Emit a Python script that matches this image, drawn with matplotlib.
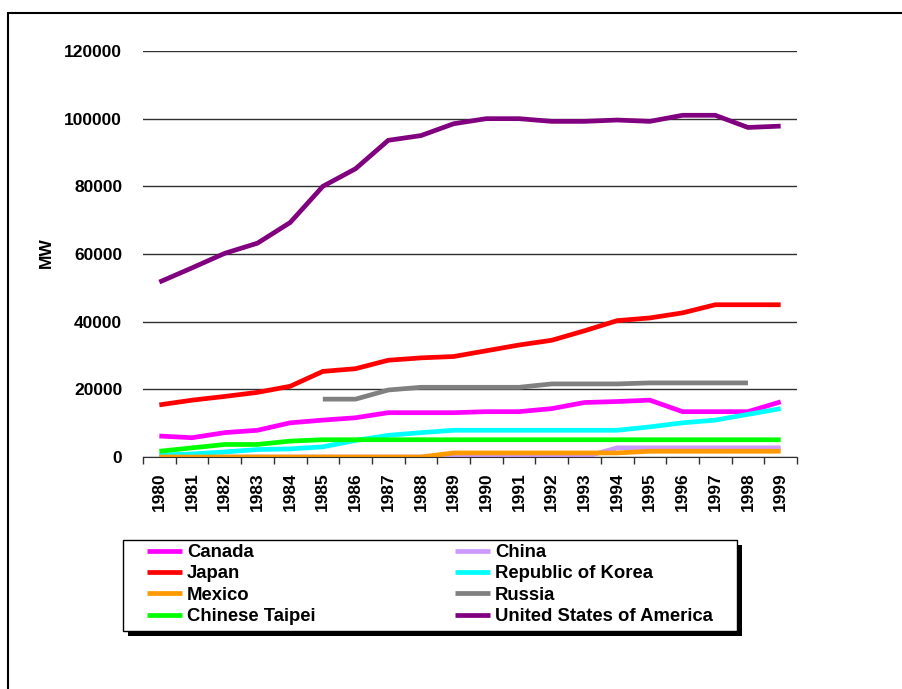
## plot.py
# installed nuclear capacity by country, 1980-1999 (MW)

import matplotlib
matplotlib.use("Agg")
import matplotlib.pyplot as plt
from matplotlib.patches import Rectangle
import numpy as np

plt.rcParams["font.family"] = ["Liberation Sans", "DejaVu Sans"]
plt.rcParams["font.weight"] = "bold"

# data
years = [str(y) for y in range(1980, 2000)]

canada = [6200, 5700, 7200, 7900, 10100, 10900, 11600, 13100, 13100, 13100,
          13400, 13400, 14300, 16100, 16400, 16800, 13400, 13400, 13400, 16300]
china = [0, 0, 0, 0, 0, 0, 0, 0, 0, 0,
         0, 0, 0, 0, 2700, 2700, 2700, 2700, 2700, 2700]
japan = [15400, 16800, 17900, 19100, 20900, 25300, 26100, 28600, 29300, 29700,
         31400, 33100, 34500, 37300, 40300, 41100, 42600, 45000, 45000, 45000]
korea = [600, 900, 1500, 2200, 2400, 3000, 4900, 6400, 7200, 7900,
         7900, 7900, 7900, 7900, 7900, 8900, 10100, 10900, 12600, 14300]
mexico = [0, 0, 0, 0, 0, 0, 0, 0, 0, 1200,
          1200, 1200, 1200, 1200, 1200, 1700, 1700, 1700, 1700, 1700]
russia = [None, None, None, None, None, 17100, 17100, 19800, 20600, 20600,
          20600, 20600, 21600, 21600, 21600, 21900, 21900, 21900, 21900, None]
taipei = [1700, 2700, 3700, 3700, 4700, 5100, 5100, 5100, 5100, 5100,
          5100, 5100, 5100, 5100, 5100, 5100, 5100, 5100, 5100, 5100]
usa = [51700, 55900, 60200, 63200, 69300, 80000, 85200, 93600, 95000, 98500,
       100000, 100000, 99200, 99200, 99600, 99200, 101000, 101000, 97400, 97800]

series = [
    ("Canada", canada, "#FF00FF"),
    ("China", china, "#CC99FF"),
    ("Japan", japan, "#FF0000"),
    ("Republic of Korea", korea, "#00FFFF"),
    ("Mexico", mexico, "#FF9900"),
    ("Russia", russia, "#808080"),
    ("Chinese Taipei", taipei, "#00FF00"),
    ("United States of America", usa, "#800080"),
]

W, H = 902, 689
fig = plt.figure(figsize=(W / 100, H / 100), dpi=100)
ax = fig.add_axes([143 / W, 1 - 457 / H, 654 / W, 406 / H])

x = np.arange(len(years))
lines = {}
for name, vals, color in series:
    v = np.array([np.nan if a is None else a for a in vals], dtype=float)
    ln, = ax.plot(x, v, color=color, lw=3.4, solid_capstyle="butt",
                  solid_joinstyle="miter", label=name)
    lines[name] = ln

# axes styling
ax.set_xlim(-0.5, len(years) - 0.5)
ax.set_ylim(0, 120000)
ax.set_yticks(range(0, 120001, 20000))
ax.set_yticklabels([str(v) for v in range(0, 120001, 20000)], fontsize=12.5, fontweight="bold")
ax.tick_params(axis="y", length=0, pad=15)
ax.grid(axis="y", color="#303030", lw=1)
ax.set_axisbelow(True)

ax.set_xticks(x)
ax.set_xticklabels(years, rotation=90, fontsize=12.5, fontweight="bold")
ax.tick_params(axis="x", which="major", length=0, pad=11)
ax.set_xticks(np.arange(-0.5, len(years)), minor=True)
ax.tick_params(axis="x", which="minor", length=5, width=1, color="#303030")

for s in ["left", "right", "top"]:
    ax.spines[s].set_visible(False)
ax.spines["bottom"].set_color("#303030")

fig.text(46 / W, 1 - 253 / H, "MW", rotation=90, ha="center", va="center",
         fontsize=12.5, fontweight="bold")

# legend box with a hard black shadow
fig.add_artist(Rectangle((128 / W, 1 - 636 / H), 614 / W, 91 / H, transform=fig.transFigure,
                         facecolor="black", edgecolor="none", zorder=3))
fig.add_artist(Rectangle((123 / W, 1 - 631 / H), 614 / W, 91 / H, transform=fig.transFigure,
                         facecolor="white", edgecolor="black", lw=1, zorder=4))

# two legend columns, filled by rows like the original
columns = [(["Canada", "Japan", "Mexico", "Chinese Taipei"], 147),
           (["China", "Republic of Korea", "Russia", "United States of America"], 455)]
for names, left in columns:
    leg = fig.legend([lines[n] for n in names], names, loc="upper left",
                     bbox_to_anchor=(left / W, 1 - 544 / H), bbox_transform=fig.transFigure,
                     prop={"weight": "bold", "size": 13.3}, frameon=False,
                     handlelength=1.9, handletextpad=0.27, labelspacing=0.24,
                     borderpad=0, borderaxespad=0)
    leg.set_zorder(5)

# outer chart border
fig.add_artist(Rectangle((8 / W, -0.2), 1.2, 1.2 - 13 / H,
                         transform=fig.transFigure, fill=False,
                         edgecolor="black", lw=1.5, clip_on=False))

fig.savefig("out.png", dpi=100)
